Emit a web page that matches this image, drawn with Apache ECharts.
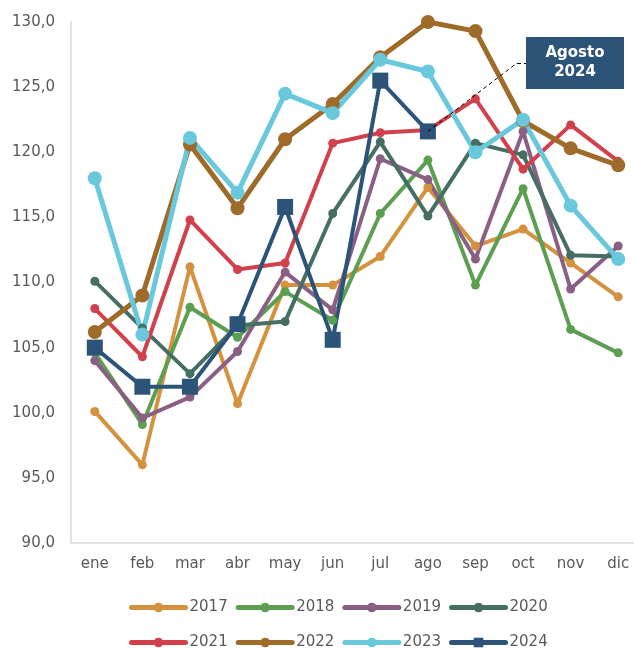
<!DOCTYPE html>
<html>
<head>
<meta charset="utf-8">
<script src="https://cdn.jsdelivr.net/npm/echarts@6/dist/echarts.min.js"></script>
<style>
  html, body { margin: 0; padding: 0; background: #fff; }
  #chart { width: 634px; height: 648px; }
</style>
</head>
<body>
<div id="chart"></div>
<script>
// months (x categories)
const months = ['ene', 'feb', 'mar', 'abr', 'may', 'jun', 'jul', 'ago', 'sep', 'oct', 'nov', 'dic'];

// index values per year
const y2017 = [100.1, 96.0, 111.2, 100.7, 109.8, 109.8, 112.0, 117.3, 112.8, 114.1, 111.5, 108.9];
const y2018 = [104.6, 99.1, 108.1, 105.8, 109.3, 107.1, 115.3, 119.4, 109.8, 117.2, 106.4, 104.6];
const y2019 = [104.0, 99.6, 101.2, 104.7, 110.8, 107.9, 119.5, 117.9, 111.8, 121.6, 109.5, 112.8];
const y2020 = [110.1, 106.5, 103.0, 106.7, 107.0, 115.3, 120.8, 115.1, 120.7, 119.8, 112.1, 112.0];
const y2021 = [108.0, 104.3, 114.8, 111.0, 111.5, 120.7, 121.5, 121.7, 124.1, 118.7, 122.1, 119.3];
const y2022 = [106.2, 109.0, 120.6, 115.7, 121.0, 123.7, 127.3, 130.0, 129.3, 122.4, 120.3, 119.0];
const y2023 = [118.0, 106.0, 121.1, 116.9, 124.5, 123.0, 127.1, 126.2, 120.0, 122.5, 115.9, 111.8];
const y2024 = [105.0, 102.0, 102.0, 106.8, 115.8, 105.6, 125.5, 121.6, null, null, null, null];

const yTicks = { min: 90, max: 130, step: 5 };

const txt = '#595959';
const font = 'DejaVu Sans';

function line(name, data, color, width, symbol, size) {
    return {
        name: name,
        type: 'line',
        data: data,
        symbol: symbol,
        symbolSize: size,
        showSymbol: true,
        lineStyle: { color: color, width: width },
        itemStyle: { color: color },
        emphasis: { disabled: true }
    };
}

const series = [
    line('2017', y2017, '#D4923F', 4, 'circle', 9),
    line('2018', y2018, '#5D9F50', 4, 'circle', 9),
    line('2019', y2019, '#895F84', 4, 'circle', 9),
    line('2020', y2020, '#466F64', 4, 'circle', 9),
    line('2021', y2021, '#D1404B', 4, 'circle', 9),
    line('2022', y2022, '#9F6B29', 5, 'circle', 14),
    line('2023', y2023, '#69C8DB', 5, 'circle', 14),
    line('2024', y2024, '#2C5478', 4, 'rect', 16)
];

// dashed leader from the agosto 2024 point to the label box
series[7].markLine = {
    silent: true,
    symbol: 'none',
    label: { show: false },
    lineStyle: { color: '#000', type: [4, 3], width: 1 },
    data: [
        [{ coord: ['ago', y2024[7]] }, { x: 517, y: 63 }],
        [{ x: 517, y: 63 }, { x: 526, y: 63 }]
    ]
};

const legendCommon = {
    left: 124,
    itemWidth: 54,
    itemHeight: 12,
    itemGap: 8,
    lineStyle: { width: 5, cap: 'round' },
    textStyle: { color: txt, fontFamily: font, fontSize: 15, padding: [0, 0, 0, -1] }
};

const chart = echarts.init(document.getElementById('chart'));
chart.setOption({
    animation: false,
    grid: { left: 71, top: 22, width: 571, height: 521, outerBoundsMode: 'none' },
    xAxis: {
        type: 'category',
        data: months,
        boundaryGap: true,
        axisLine: { lineStyle: { color: '#D9D9D9', width: 1.5 } },
        axisTick: { show: false },
        axisLabel: { color: txt, fontFamily: font, fontSize: 15, margin: 14 }
    },
    yAxis: {
        type: 'value',
        min: yTicks.min,
        max: yTicks.max,
        interval: yTicks.step,
        axisLine: { show: true, lineStyle: { color: '#D9D9D9', width: 1.5 } },
        axisTick: { show: false },
        splitLine: { show: false },
        axisLabel: {
            color: txt, fontFamily: font, fontSize: 15, margin: 16,
            formatter: v => v.toFixed(1).replace('.', ',')
        }
    },
    legend: [
        Object.assign({ top: 595, data: ['2017', '2018', '2019', '2020'] }, legendCommon),
        Object.assign({ top: 630, data: ['2021', '2022', '2023', '2024'] }, legendCommon)
    ],
    graphic: [{
        type: 'group',
        left: 526,
        top: 37,
        children: [
            { type: 'rect', shape: { x: 0, y: 0, width: 98, height: 52 }, style: { fill: '#2C5478' } },
            {
                type: 'text', x: 49, y: 26,
                style: {
                    text: 'Agosto\n2024', fill: '#fff', font: 'bold 15px "DejaVu Sans"',
                    align: 'center', verticalAlign: 'middle', lineHeight: 19
                }
            }
        ]
    }],
    series: series
});
</script>
</body>
</html>
